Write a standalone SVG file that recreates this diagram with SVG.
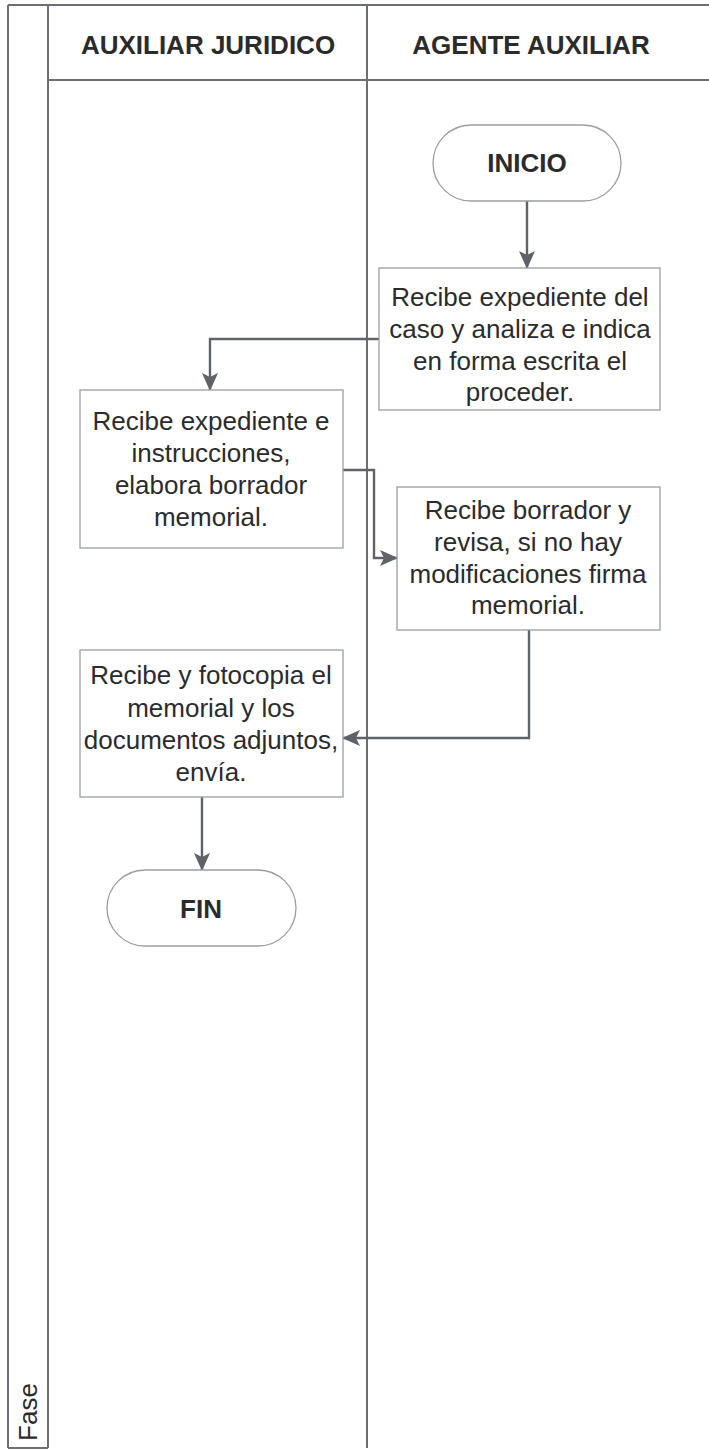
<svg xmlns="http://www.w3.org/2000/svg" width="709" height="1450" viewBox="0 0 709 1450">
<style>
.frame{stroke:#6b6f75;stroke-width:2;fill:none}
.box{fill:#fff;stroke:#9a9ea3;stroke-width:1.3}
.t{font-family:"Liberation Sans",Arial,sans-serif;font-size:26px;fill:#2b2b2b;text-anchor:middle}
.h{font-family:"Liberation Sans",Arial,sans-serif;font-size:26px;font-weight:bold;fill:#2b2b2b;text-anchor:middle}
.c{stroke:#5f6369;stroke-width:2.4;fill:none;marker-end:url(#a)}
</style>
<defs>
<marker id="a" markerWidth="18" markerHeight="16" refX="17" refY="8" orient="auto" markerUnits="userSpaceOnUse" viewBox="0 0 18 16">
<path d="M0,0 L18,8 L0,16 L4,8 Z" fill="#5f6369"/>
</marker>
</defs>
<rect width="709" height="1450" fill="#fff"/>
<g id="frame">
<line class="frame" x1="8" y1="5" x2="709" y2="5"/>
<line class="frame" x1="8" y1="5" x2="8" y2="1448"/>
<line class="frame" x1="48" y1="5" x2="48" y2="1448"/>
<line class="frame" x1="367" y1="5" x2="367" y2="1448"/>
<line class="frame" x1="48" y1="80" x2="709" y2="80"/>
<line class="frame" x1="8" y1="1448" x2="48" y2="1448"/>
<text class="h" x="208" y="54">AUXILIAR JURIDICO</text>
<text class="h" x="531" y="54">AGENTE AUXILIAR</text>
<text class="t" x="0" y="0" transform="translate(37,1412) rotate(-90)">Fase</text>
</g>
<g id="connectors">
<path class="c" d="M527,201 L527,268"/>
<path class="c" d="M379,339 L210,339 L210,390"/>
<path class="c" d="M343,470 L374,470 L374,558 L397,558"/>
<path class="c" d="M529,630 L529,738 L343,738"/>
<path class="c" d="M202,797 L202,870"/>
</g>
<g id="inicio">
<rect class="box" x="433" y="125" width="188" height="76" rx="38"/>
<text class="h" x="527" y="172">INICIO</text>
</g>
<g id="n1">
<rect class="box" x="379" y="268" width="281" height="142"/>
<text class="t" x="520" y="306">Recibe expediente del</text>
<text class="t" x="520" y="338">caso y analiza e indica</text>
<text class="t" x="520" y="370">en forma escrita el</text>
<text class="t" x="520" y="401">proceder.</text>
</g>
<g id="n2">
<rect class="box" x="80" y="390" width="263" height="158"/>
<text class="t" x="211" y="430">Recibe expediente e</text>
<text class="t" x="211" y="462">instrucciones,</text>
<text class="t" x="211" y="494">elabora borrador</text>
<text class="t" x="211" y="526">memorial.</text>
</g>
<g id="n3">
<rect class="box" x="397" y="487" width="263" height="143"/>
<text class="t" x="528" y="519">Recibe borrador y</text>
<text class="t" x="528" y="551">revisa, si no hay</text>
<text class="t" x="528" y="583">modificaciones firma</text>
<text class="t" x="528" y="614">memorial.</text>
</g>
<g id="n4">
<rect class="box" x="80" y="650" width="263" height="147"/>
<text class="t" x="211" y="684">Recibe y fotocopia el</text>
<text class="t" x="211" y="717">memorial y los</text>
<text class="t" x="211" y="749">documentos adjuntos,</text>
<text class="t" x="211" y="781">envía.</text>
</g>
<g id="fin">
<rect class="box" x="107" y="870" width="189" height="76" rx="38"/>
<text class="h" x="201" y="918">FIN</text>
</g>
</svg>
